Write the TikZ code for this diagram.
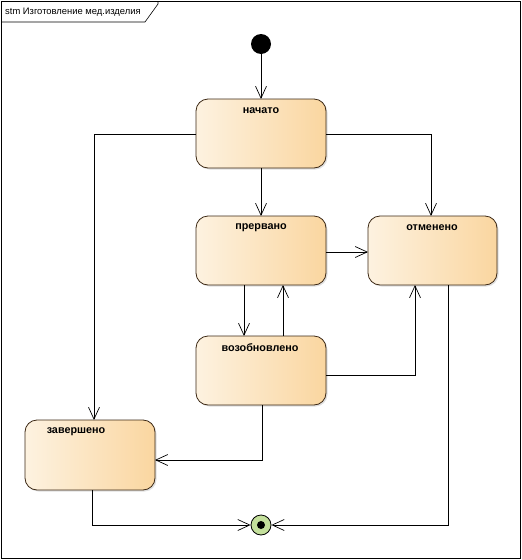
\documentclass[tikz,border=0pt]{standalone}
\usepackage{fontspec}
\setmainfont{Liberation Sans}
\usetikzlibrary{arrows.meta,shadows}
\definecolor{stlight}{RGB}{253,242,224}
\definecolor{stdark}{RGB}{250,214,160}
\definecolor{stborder}{RGB}{60,40,20}
\definecolor{finfill}{RGB}{196,224,156}
\begin{document}
\begin{tikzpicture}[x=1pt,y=-1pt,
  state/.style={rounded corners=12pt, draw=stborder, line width=0.8pt, left color=stlight, right color=stdark,
     drop shadow={shadow xshift=1.5pt, shadow yshift=-1.5pt, opacity=0.25}},
  lbl/.style={font=\bfseries\fontsize{10.8}{12}\selectfont, anchor=center},
  tr/.style={draw, line width=0.7pt, -{Straight Barb[length=12pt,width=11pt,line width=0.7pt]}}
]
\useasboundingbox (0,0) rectangle (522,560);
% frame
\draw[line width=0.8pt] (1,1) rectangle (520,558);
\draw[line width=0.6pt] (1,22) -- (145,22) -- (158,4) -- (158,1);
\node[anchor=west, font=\fontsize{9.4}{11}\selectfont, inner sep=0pt] (title) at (5,12) {stm Изготовление мед.изделия};
% states
\path[state] (196,99) rectangle (326,168);
\path[state] (196,216) rectangle (326,285);
\path[state] (368,216) rectangle (497,285);
\path[state] (196,336) rectangle (326,405);
\path[state] (25,420) rectangle (155,490);
\node[lbl] (tn) at (261,111) {начато};
\node[lbl] (tp) at (261,228) {прервано};
\node[lbl] (to) at (432,228) {отменено};
\node[lbl] (tv) at (260,348) {возобновлено};
\node[lbl] (tz) at (76,432) {завершено};
% named anchors
\coordinate (nTop) at (261,99); \coordinate (nBot) at (261,168);
\coordinate (nR) at (326,134); \coordinate (nL) at (196,134);
\coordinate (pTop) at (261,216); \coordinate (pR) at (326,252);
\coordinate (pB1) at (244,285); \coordinate (pB2) at (283,285);
\coordinate (oL) at (368,252); \coordinate (oT) at (431,216);
\coordinate (oB1) at (415,285); \coordinate (oB2) at (448,285);
\coordinate (vT1) at (244,336); \coordinate (vT2) at (283,336);
\coordinate (vR) at (326,375); \coordinate (vB) at (262,405);
\coordinate (zT) at (94,420); \coordinate (zR) at (155,460); \coordinate (zB) at (92,490);
% initial and final
\node[circle, fill=black, minimum size=20pt, inner sep=0pt] (init) at (261,44) {};
\node[circle, draw=black, line width=0.8pt, fill=finfill, minimum size=20pt, inner sep=0pt] (fin) at (261,525) {};
\node[circle, fill=black, minimum size=8pt, inner sep=0pt] (fincore) at (261,525) {};
% transitions
\draw[tr] (init) -- (nTop);
\draw[tr] (nBot) -- (pTop);
\draw[tr] (nR) -- (431,134) -- (oT);
\draw[tr] (nL) -- (94,134) -- (zT);
\draw[tr] (pR) -- (oL);
\draw[tr] (pB1) -- (vT1);
\draw[tr] (vT2) -- (pB2);
\draw[tr] (vR) -- (415,375) -- (oB1);
\draw[tr] (vB) -- (262,460) -- (zR);
\draw[tr] (zB) -- (92,525) -- (fin.west);
\draw[tr] (oB2) -- (448,525) -- (fin.east);
\end{tikzpicture}
\end{document}
